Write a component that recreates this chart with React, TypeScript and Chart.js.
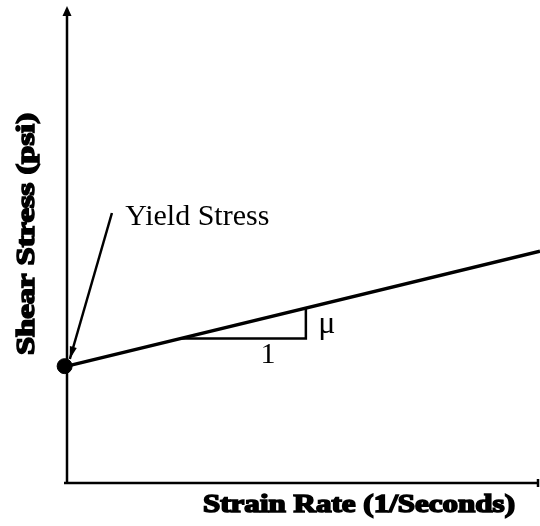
import React, { useEffect, useRef } from "react";
import { Chart, registerables } from "chart.js";

Chart.register(...registerables);

// ---- data ----
const strainRate = [0, 100];
const shearStress = [24.5, 48.6];
const yieldPointX = [-0.5];
const yieldPointY = [24.5];
const slopeRunX = [24, 50.5, 50.5];
const slopeRunY = [30.3, 30.3, 36.7];
const xAxisTitle = "Strain Rate (1/Seconds)";
const yAxisTitle = "Shear Stress (psi)";
const yieldLabel = "Yield Stress";
const yieldLabelPos = [12.3, 54.1];
const yieldArrowFrom = [9.5, 56.6];
const yieldArrowTo = [0.6, 26];
const runLabel = "1";
const runLabelPos = [42.5, 25.2];
const slopeLabel = "μ";
const slopeLabelPos = [53.1, 31.4];

const W = 540;
const H = 526;

function stretchedText(
  ctx: CanvasRenderingContext2D,
  text: string,
  cx: number,
  cy: number,
  targetWidth: number,
  rotate: number
) {
  ctx.save();
  ctx.translate(cx, cy);
  ctx.rotate(rotate);
  const w = ctx.measureText(text).width;
  ctx.scale(targetWidth / w, 1);
  ctx.textAlign = "center";
  ctx.textBaseline = "middle";
  ctx.fillText(text, 0, 0);
  ctx.lineWidth = 1.6;
  ctx.strokeText(text, 0, 0);
  ctx.restore();
}

const diagramPlugin = {
  id: "diagram",
  beforeDatasetsDraw(chart: any) {
    const ctx: CanvasRenderingContext2D = chart.ctx;
    const a = chart.chartArea;
    ctx.save();
    ctx.strokeStyle = "#000";
    ctx.fillStyle = "#000";
    ctx.lineWidth = 2.5;
    // y axis
    ctx.beginPath();
    ctx.moveTo(a.left, a.bottom);
    ctx.lineTo(a.left, a.top + 8);
    ctx.stroke();
    ctx.beginPath();
    ctx.moveTo(a.left, a.top);
    ctx.lineTo(a.left - 4.5, a.top + 10);
    ctx.lineTo(a.left + 4.5, a.top + 10);
    ctx.closePath();
    ctx.fill();
    // x axis
    ctx.beginPath();
    ctx.moveTo(a.left - 3, a.bottom);
    ctx.lineTo(chart.width - 2, a.bottom);
    ctx.stroke();
    ctx.beginPath();
    ctx.moveTo(chart.width - 2, a.bottom - 4);
    ctx.lineTo(chart.width - 2, a.bottom + 4);
    ctx.stroke();
    ctx.restore();
  },
  afterDatasetsDraw(chart: any) {
    const ctx: CanvasRenderingContext2D = chart.ctx;
    const xs = chart.scales.x;
    const ys = chart.scales.y;
    const px = (v: number) => xs.getPixelForValue(v);
    const py = (v: number) => ys.getPixelForValue(v);
    ctx.save();
    ctx.fillStyle = "#000";
    ctx.strokeStyle = "#000";

    // Yield stress arrow
    const x0 = px(yieldArrowFrom[0]);
    const y0 = py(yieldArrowFrom[1]);
    const x1 = px(yieldArrowTo[0]);
    const y1 = py(yieldArrowTo[1]);
    ctx.lineWidth = 2.5;
    ctx.beginPath();
    ctx.moveTo(x0, y0);
    ctx.lineTo(x1, y1);
    ctx.stroke();
    const ang = Math.atan2(y1 - y0, x1 - x0);
    const len = 13;
    const half = 0.28;
    ctx.beginPath();
    ctx.moveTo(x1, y1);
    ctx.lineTo(x1 - len * Math.cos(ang - half), y1 - len * Math.sin(ang - half));
    ctx.lineTo(x1 - len * Math.cos(ang + half), y1 - len * Math.sin(ang + half));
    ctx.closePath();
    ctx.fill();

    // Text labels
    ctx.font = '30px "Liberation Serif"';
    ctx.textBaseline = "alphabetic";
    ctx.textAlign = "left";
    ctx.fillText(yieldLabel, px(yieldLabelPos[0]), py(yieldLabelPos[1]));
    ctx.textAlign = "center";
    ctx.fillText(runLabel, px(runLabelPos[0]), py(runLabelPos[1]));
    ctx.textAlign = "left";
    ctx.font = '32px "Liberation Serif"';
    ctx.fillText(slopeLabel, px(slopeLabelPos[0]), py(slopeLabelPos[1]));

    // Axis titles
    ctx.font = 'bold 25px "Liberation Serif"';
    stretchedText(ctx, xAxisTitle, 359, 506, 312, 0);
    stretchedText(ctx, yAxisTitle, 28, 234, 242, -Math.PI / 2);
    ctx.restore();
  },
};

export default function App() {
  const ref = useRef<HTMLCanvasElement | null>(null);
  useEffect(() => {
    if (!ref.current) return;
    const chart = new Chart(ref.current, {
      type: "scatter",
      data: {
        datasets: [
          {
            data: strainRate.map((x, i) => ({ x, y: shearStress[i] })),
            showLine: true,
            borderColor: "#000",
            borderWidth: 3.5,
            pointRadius: 0,
            clip: false,
          },
          {
            data: slopeRunX.map((x, i) => ({ x, y: slopeRunY[i] })),
            showLine: true,
            borderColor: "#000",
            borderWidth: 2.5,
            pointRadius: 0,
            clip: false,
          },
          {
            data: yieldPointX.map((x, i) => ({ x, y: yieldPointY[i] })),
            showLine: false,
            pointRadius: 7.5,
            pointBackgroundColor: "#000",
            pointBorderColor: "#000",
            clip: false,
          },
        ],
      } as any,
      options: {
        animation: false,
        responsive: false,
        devicePixelRatio: 1,
        layout: { autoPadding: false, padding: { left: 67, right: 0, top: 6, bottom: 43 } },
        scales: {
          x: { type: "linear", min: 0, max: 100, display: false },
          y: { type: "linear", min: 0, max: 100, display: false },
        },
        plugins: {
          legend: { display: false },
          tooltip: { enabled: false },
        },
        events: [],
      } as any,
      plugins: [diagramPlugin],
    });
    return () => chart.destroy();
  }, []);
  return (
    <div style={{ position: "fixed", left: 0, top: 0, width: W, height: H, background: "#fff" }}>
      <canvas ref={ref} width={W} height={H} style={{ display: "block", width: W, height: H }} />
    </div>
  );
}
